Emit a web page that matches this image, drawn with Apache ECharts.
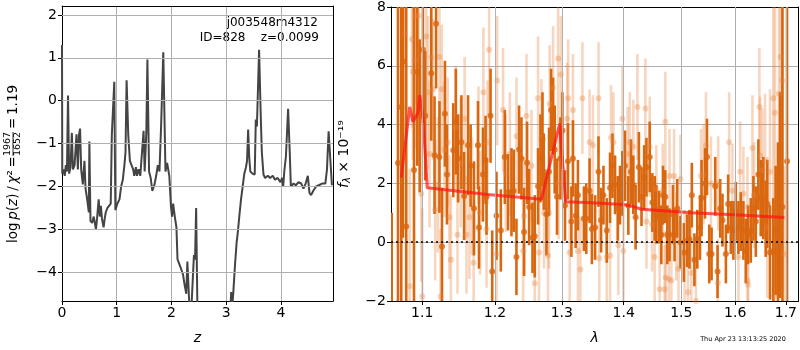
<!DOCTYPE html>
<html><head><meta charset="utf-8">
<script src="https://cdn.jsdelivr.net/npm/echarts@6/dist/echarts.min.js"></script>
<style>html,body{margin:0;padding:0;background:#fff}#c{width:800px;height:350px}</style>
</head><body><div id="c"></div>
<script>
// ---- left panel: log p(z) ----
const pzZ = [0.00,0.005,0.03,0.05,0.07,0.09,0.11,0.13,0.155,0.18,0.20,0.23,0.265,0.29,0.31,0.33,0.35,0.38,0.41,0.43,0.46,0.49,0.50,0.52,0.55,0.58,0.62,0.64,0.67,0.69,0.71,0.73,0.76,0.78,0.80,0.83,0.86,0.89,0.91,0.955,0.975,1.01,1.05,1.08,1.11,1.14,1.16,1.18,1.21,1.24,1.27,1.30,1.32,1.35,1.37,1.40,1.43,1.46,1.49,1.51,1.54,1.56,1.59,1.62,1.65,1.69,1.72,1.75,1.78,1.81,1.85,1.89,1.92,1.96,1.99,2.01,2.03,2.06,2.09,2.11,2.14,2.17,2.21,2.24,2.27,2.29,2.32,2.35,2.41,2.43,2.45,2.48,2.6,3.0,3.09,3.11,3.13,3.16,3.19,3.21,3.24,3.27,3.30,3.33,3.36,3.38,3.40,3.42,3.44,3.48,3.52,3.54,3.56,3.60,3.63,3.65,3.68,3.71,3.76,3.80,3.85,3.89,3.94,3.99,4.02,4.04,4.06,4.09,4.13,4.16,4.18,4.23,4.27,4.32,4.37,4.41,4.45,4.49,4.52,4.55,4.59,4.64,4.69,4.75,4.81,4.84,4.87,4.89,4.93];
const pzLogp = [1.3,-1.7,-1.6,-1.75,-1.5,-1.65,0.12,-1.7,-1.55,-0.75,-1.6,-1.5,-0.78,-1.6,-0.8,-0.65,-1.6,-1.95,-1.4,-2.05,-2.3,-2.6,-0.95,-2.8,-2.85,-2.7,-3.0,-2.75,-2.3,-2.7,-2.45,-2.75,-2.95,-2.75,-2.6,-2.5,-2.45,-2.4,-0.8,0.44,-2.55,-2.4,-2.3,-2.0,-1.85,-1.5,-1.2,0.48,-0.8,-1.4,-1.5,-1.6,-1.75,-1.55,-1.75,-1.6,-1.75,-1.75,-0.7,-1.65,-0.75,0.96,-1.65,-1.8,-2.1,-1.95,-1.75,-1.5,-1.65,-0.6,1.13,-1.65,-1.45,-1.75,-2.45,-2.7,-2.4,-2.7,-2.95,-3.7,-3.8,-3.9,-4.05,-4.3,-4.5,-3.75,-4.6,-5.2,-3.6,-3.7,-2.5,-5.5,-7,-7,-4.46,-4.8,-4.45,-3.83,-3.3,-3.08,-2.68,-2.3,-2.0,-1.7,-1.55,-1.4,-0.67,-1.33,-1.65,-1.7,-1.72,-0.44,-0.6,1.19,-0.35,-1.2,-1.72,-1.8,-1.75,-1.8,-1.75,-1.84,-1.8,-1.9,-1.8,-2.0,-1.65,-1.3,-0.19,-1.2,-2.0,-1.93,-1.97,-1.9,-1.93,-2.05,-1.93,-1.75,-2.15,-2.2,-2.1,-2.0,-1.97,-1.93,-1.93,-1.6,-0.71,-0.67,-1.97];
const pzTicksY = [-4,-3,-2,-1,0,1,2];

// ---- right panel: spectrum [lambda, flux, err] ----
const darkSpec = [
[1.0605,-3.5,4.5],[1.0685,2.69,9],[1.0727,4.6,9],[1.0749,6.15,6],[1.0791,0.53,9],[1.0892,2.46,8],
[1.0935,5.8,3.2],[1.0966,4.3,2.6],[1.1009,6.55,2.5],[1.1039,4.3,2.2],[1.1119,5.75,2.3],[1.1163,2.96,2.0],
[1.1184,7.43,2.2],[1.1229,2.9,1.9],[1.1263,-0.15,2.0],[1.1303,4.37,1.8],[1.1330,2.3,1.7],[1.1416,3.13,1.6],
[1.1451,4.1,1.8],[1.1483,2.85,1.5],[1.1528,3.4,1.6],[1.1565,1.57,1.5],[1.1620,3.3,1.7],[1.1656,2.6,1.4],
[1.1703,1.15,1.6],[1.1759,3.3,1.5],[1.1773,0.5,1.4],[1.1829,2.3,1.6],[1.1866,2.8,1.5],[1.1880,1.55,1.3],
[1.1937,4.3,1.6],[1.1961,-1.0,1.4],[1.2022,0.9,1.5],[1.2085,0.4,1.4],[1.2143,2.9,1.6],[1.2190,1.7,1.3],
[1.2240,1.7,1.5],[1.2273,1.75,1.4],[1.2313,-0.5,1.3],[1.2352,3.15,1.5],[1.2387,2.85,1.4],[1.2426,0.35,1.5],
[1.2471,2.7,1.4],[1.2501,1.2,1.3],[1.2552,0.15,1.2],[1.2586,0.2,1.4],[1.2636,1.9,1.3],[1.2672,2.85,1.5],
[1.2703,3.5,1.6],[1.2722,2.4,1.3],[1.2763,0.95,1.4],[1.2803,2.4,1.5],[1.2834,4.5,1.4],[1.2865,4.3,1.3],
[1.2890,3.15,1.5],[1.2926,1.55,1.3],[1.2979,2.85,1.4],[1.3010,3.8,1.3],[1.3050,1.25,1.2],[1.3097,2.75,1.3],
[1.3150,0.7,1.2],[1.3175,2.85,1.3],[1.3217,0.9,1.1],[1.3254,1.6,1.2],[1.3349,0.8,1.1],[1.3387,0.8,1.2],
[1.3440,1.75,1.1],[1.3477,0.45,1.2],[1.3529,0.5,1.1],[1.3584,2.4,1.2],[1.3626,0.75,1.1],[1.3665,1.6,1.0],
[1.3719,0.4,1.1],[1.3773,1.85,1.2],[1.3813,2.6,1.1],[1.3856,1.95,1.0],[1.3900,1.15,1.1],[1.3938,1.6,1.0],
[1.3978,2.0,1.1],[1.4022,2.6,1.2],[1.4078,1.25,1.0],[1.4122,2.4,1.1],[1.4162,1.95,1.0],[1.4201,0.85,1.1],
[1.4257,2.55,1.2],[1.4302,1.55,1.0],[1.4347,2.2,1.1],[1.4387,2.55,1.0],[1.4443,2.9,1.2],[1.4489,1.35,1.0],
[1.4529,1.15,1.1],[1.4558,0.95,1.0],[1.4605,0.85,0.9],[1.4645,0.25,1.0],[1.4675,1.6,1.0],[1.4715,1.55,0.9],
[1.4750,0.25,1.0],[1.4790,0.25,0.9],[1.4850,0.95,1.0],[1.4879,0.25,0.9],[1.4927,1.15,1.0],[1.4985,0.0,0.9],
[1.5046,-0.35,1.0],[1.5105,0.05,0.9],[1.5147,0.1,1.0],[1.5190,1.6,1.1],[1.5237,-0.6,0.9],[1.5290,0.1,1.0],
[1.5339,0.5,1.1],[1.5368,1.5,1.3],[1.5431,2.0,1.2],[1.5468,2.9,1.3],[1.5510,-0.4,1.0],[1.5553,-0.4,0.9],
[1.5622,1.9,1.0],[1.5665,-1.0,0.9],[1.5715,1.15,1.0],[1.5758,0.75,0.9],[1.5822,-0.4,1.0],[1.5865,1.3,1.0],
[1.5916,0.5,0.9],[1.5965,0.4,1.0],[1.6011,1.05,1.0],[1.6061,0.5,0.9],[1.6107,0.7,1.0],[1.6157,0.4,1.0],
[1.6203,-0.3,1.1],[1.6249,0.25,1.0],[1.6301,0.4,1.1],[1.6352,1.15,1.1],[1.6399,0.7,1.2],[1.6449,2.3,1.2],
[1.6496,1.5,1.3],[1.6547,1.5,1.4],[1.6594,0.8,1.3],[1.6626,1.3,1.5],[1.6680,-0.35,1.6],[1.6746,-0.3,1.8],
[1.6793,0.4,2.2],[1.6840,0.4,3.0],[1.6880,1.6,3.5],[1.6930,1.2,12],[1.7024,2.75,12]
];
const lightSpec = [
[1.0770,7.1,4],[1.0835,-1.5,4],[1.0865,6.9,3],[1.0878,5.8,3],[1.0908,6.2,3],[1.0921,7.7,3],[1.0953,7.7,3],
[1.0987,1.65,3],[1.1000,-1.85,3],[1.1053,7.0,2.8],[1.1075,5.1,2.6],[1.1097,3.0,2.5],[1.1119,6.3,2.6],
[1.1141,5.2,2.4],[1.1172,1.1,2.4],[1.1207,1.95,2.3],[1.1229,6.3,2.4],[1.1243,-1.85,2.3],[1.1260,5.2,2.2],
[1.1296,3.15,2.3],[1.1340,3.4,2.2],[1.1363,0.85,2.1],[1.1384,-0.6,2.2],[1.1451,3.9,2.1],[1.1474,0.25,2.0],
[1.1518,2.7,2.2],[1.1572,4.2,2.1],[1.1598,0.25,2.0],[1.1639,0.85,2.1],[1.1675,1.55,2.0],[1.1698,-0.7,2.1],
[1.1766,3.3,2.0],[1.1789,1.0,2.1],[1.1835,5.1,2.2],[1.1880,0.45,2.0],[1.1894,3.4,2.1],[1.1917,6.55,2.3],
[1.2023,-0.4,2.0],[1.2032,5.5,2.2],[1.2117,4.5,2.1],[1.2157,2.35,2.0],[1.2216,3.0,2.1],[1.2314,3.6,2.0],
[1.2412,-0.3,1.9],[1.2426,0.9,2.0],[1.2462,4.3,2.1],[1.2536,2.6,1.9],[1.2586,-1.4,2.0],[1.2636,4.9,2.1],
[1.2651,-0.35,1.9],[1.2687,3.55,2.0],[1.2726,1.0,1.9],[1.2787,-0.45,1.8],[1.2803,1.0,1.9],[1.2813,4.7,2.0],
[1.2865,5.25,2.1],[1.2943,6.25,2.2],[1.2950,2.0,1.9],[1.2985,5.7,2.0],[1.3084,4.2,1.9],[1.3100,4.9,2.0],
[1.3123,-0.35,1.8],[1.3175,4.5,1.9],[1.3254,-0.3,1.8],[1.3293,-0.93,1.8],[1.3325,4.9,1.9],[1.3440,3.4,1.8],
[1.3494,3.3,1.7],[1.3585,4.9,1.9],[1.3597,-0.55,1.7],[1.3719,-0.5,1.8],[1.3773,-0.45,1.7],[1.3789,3.55,1.8],
[1.3828,3.4,1.7],[1.3911,-0.1,1.7],[1.3978,4.2,1.8],[1.3995,-0.3,1.7],[1.4067,3.0,1.6],[1.4102,3.4,1.7],
[1.4162,3.25,1.6],[1.4232,4.6,1.8],[1.4369,4.55,1.7],[1.4387,0.7,1.6],[1.4443,3.25,1.7],[1.4484,0.6,1.6],
[1.4529,-0.5,1.6],[1.4558,1.8,1.5],[1.4616,-1.6,1.5],[1.4670,1.75,1.6],[1.4704,-1.6,1.5],[1.4715,4.1,1.7],
[1.4722,-1.2,1.6],[1.4775,-1.25,1.5],[1.4790,2.25,1.6],[1.4822,-1.3,1.5],[1.4870,2.25,1.6],[1.4910,0.2,1.5],
[1.4950,-0.9,1.6],[1.4985,2.15,1.5],[1.5059,-0.5,1.6],[1.5120,-1.7,1.5],[1.5180,-1.05,1.6],[1.5265,-2.0,1.5],
[1.5357,2.25,1.6],[1.5405,2.3,1.7],[1.5449,3.3,1.8],[1.5541,2.0,1.6],[1.5670,-1.4,1.5],[1.5677,2.0,1.6],
[1.5884,3.4,1.7],[1.5947,1.75,1.6],[1.6061,-0.5,1.6],[1.6094,2.4,1.7],[1.6157,1.65,1.6],[1.6235,1.2,1.7],
[1.6237,-1.3,1.6],[1.6249,-1.45,1.7],[1.6333,3.2,1.8],[1.6365,1.6,1.8],[1.6469,4.6,2.0],[1.6483,2.95,2.0],
[1.6528,2.45,2.1],[1.6581,2.75,2.3],[1.6626,0.5,2.4],[1.6680,2.4,2.8],[1.6746,4.9,4],[1.6760,-1.85,3],
[1.6780,4.4,5],[1.6860,5.05,6],[1.6894,6.3,7],[1.6927,5.5,7],[1.6961,-0.4,3]
];
const modelLam = [1.0727,1.0836,1.0878,1.0944,1.0966,1.1009,1.1066,1.1898,1.2687,1.2967,1.3060,1.3472,1.3990,1.4130,1.4300,1.5180,1.5980,1.6970];
const modelFlux = [2.2,4.6,4.1,4.4,5.0,4.3,1.85,1.62,1.46,4.03,1.38,1.34,1.28,1.23,1.12,1.0,0.93,0.84];
const lamTicks = [1.1,1.2,1.3,1.4,1.5,1.6,1.7];

const DARK = '#d9670f';
const FONT = 'DejaVu Sans';
const minus = v => String(v).replace('-', '\u2212');

function errRender(color, width) {
  return function (params, api) {
    const x = api.value(0), y = api.value(1), e = api.value(2);
    const p1 = api.coord([x, y - e]), p2 = api.coord([x, y + e]);
    return { type: 'line', shape: { x1: p1[0], y1: p1[1], x2: p2[0], y2: p2[1] },
      style: { stroke: color, lineWidth: width } };
  };
}

const chart = echarts.init(document.getElementById('c'), null, { renderer: 'canvas' });
const gridStyle = () => ({ show: true, lineStyle: { color: '#b0b0b0', width: 1, type: 'solid' } });
const tickStyle = () => ({ show: true, inside: false, length: 4, lineStyle: { color: '#000' } });
const lblStyle = () => ({ color: '#000', fontFamily: FONT, fontSize: 14, margin: 5 });
const blackLine = () => ({ show: true, onZero: false, lineStyle: { color: '#000', width: 1 } });
const nameStyle = { fontFamily: FONT, fontSize: 14, fontStyle: 'italic', color: '#000' };
function frame(gridIndex, pos, min, max, type) {
  return { gridIndex, position: pos, type: type || 'value', min, max, axisLine: blackLine(),
    axisTick: { show: false }, axisLabel: { show: false }, splitLine: { show: false } };
}

chart.setOption({
  animation: false,
  grid: [
    { left: 62, top: 6, width: 271, height: 298, show: false },
    { left: 391, top: 6, width: 408, height: 298, show: false }
  ],
  xAxis: [
    { gridIndex: 0, type: 'value', position: 'bottom', min: 0, max: 4.95, interval: 1,
      axisLine: blackLine(), axisTick: tickStyle(), splitLine: gridStyle(),
      axisLabel: Object.assign(lblStyle(), { showMaxLabel: false, formatter: v => minus(v) }),
      name: 'z', nameLocation: 'middle', nameGap: 30, nameTextStyle: nameStyle },
    { gridIndex: 1, type: 'log', logBase: 10, position: 'bottom', min: 1.0596, max: 1.7259,
      axisLine: blackLine(),
      axisTick: Object.assign(tickStyle(), { customValues: lamTicks }), splitLine: gridStyle(),
      axisLabel: Object.assign(lblStyle(), { customValues: lamTicks, formatter: v => Number(v).toFixed(1) }),
      name: 'λ', nameLocation: 'middle', nameGap: 30, nameTextStyle: nameStyle },
    frame(0, 'top', 0, 4.95),
    frame(1, 'top', 1.0596, 1.7259, 'log')
  ],
  yAxis: [
    { gridIndex: 0, type: 'value', position: 'left', min: -4.669, max: 2.209,
      axisLine: blackLine(),
      axisTick: Object.assign(tickStyle(), { customValues: pzTicksY }), splitLine: gridStyle(),
      axisLabel: Object.assign(lblStyle(), { customValues: pzTicksY, formatter: v => minus(v) }) },
    { gridIndex: 1, type: 'value', position: 'left', min: -2, max: 8, interval: 2,
      axisLine: blackLine(), axisTick: tickStyle(), splitLine: gridStyle(),
      axisLabel: Object.assign(lblStyle(), { formatter: v => minus(v) }) },
    frame(0, 'right', -4.669, 2.209),
    frame(1, 'right', -2, 8)
  ],
  series: [
    { type: 'line', xAxisIndex: 0, yAxisIndex: 0, showSymbol: false, clip: true,
      data: pzZ.map((z, i) => [z, pzLogp[i]]),
      lineStyle: { color: '#444', width: 2 } },
    // horizontal grid lines of the left panel at the labelled ticks
    { type: 'line', xAxisIndex: 0, yAxisIndex: 0, data: [], silent: true,
      markLine: { silent: true, symbol: 'none', label: { show: false }, animation: false,
        lineStyle: { color: '#b0b0b0', type: 'solid', width: 1 }, data: pzTicksY.map(v => ({ yAxis: v })) }, z: 0 },
    // vertical grid lines of the right panel
    { type: 'line', xAxisIndex: 1, yAxisIndex: 1, data: [], silent: true,
      markLine: { silent: true, symbol: 'none', label: { show: false }, animation: false,
        lineStyle: { color: '#b0b0b0', type: 'solid', width: 1 }, data: lamTicks.map(v => ({ xAxis: v })) }, z: 0 },
    { type: 'custom', xAxisIndex: 1, yAxisIndex: 1, clip: true, data: lightSpec,
      renderItem: errRender('rgba(230,130,60,0.33)', 2.6) },
    { type: 'scatter', xAxisIndex: 1, yAxisIndex: 1, clip: true, data: lightSpec.map(d => [d[0], d[1]]),
      symbolSize: 6, itemStyle: { color: 'rgba(230,130,60,0.42)' } },
    { type: 'custom', xAxisIndex: 1, yAxisIndex: 1, clip: true, data: darkSpec,
      renderItem: errRender(DARK, 2.6) },
    { type: 'scatter', xAxisIndex: 1, yAxisIndex: 1, clip: true, data: darkSpec.map(d => [d[0], d[1]]),
      symbolSize: 6, itemStyle: { color: DARK } },
    { type: 'line', xAxisIndex: 1, yAxisIndex: 1, showSymbol: false, clip: true,
      data: modelLam.map((l, i) => [l, modelFlux[i]]),
      lineStyle: { color: 'rgba(255,20,20,0.72)', width: 3 },
      markLine: { silent: true, symbol: 'none', label: { show: false },
        lineStyle: { color: '#000', type: [2, 3], width: 1.6 }, data: [{ yAxis: 0 }] } }
  ],
  graphic: [
    { type: 'text', x: 318, y: 23, style: { text: 'j003548m4312', font: '12px "DejaVu Sans"', fill: '#000', align: 'right', verticalAlign: 'middle' } },
    { type: 'text', x: 319, y: 38, style: { text: 'ID=828    z=0.0099', font: '12px "DejaVu Sans"', fill: '#000', align: 'right', verticalAlign: 'middle' } },
    { type: 'group', x: 13, y: 243, rotation: Math.PI / 2, children: [
      { type: 'text', x: 0, y: 0, style: { text: '{r|log\u2009}{i|p}{r|(}{i|z}{r|)\u2009/\u2009}{i|χ}{r|²\u2009=}', align: 'left', verticalAlign: 'middle',
        rich: { r: { fontFamily: FONT, fontSize: 13.5, fill: '#000' }, i: { fontFamily: FONT, fontSize: 13.5, fontStyle: 'italic', fill: '#000' } } } },
      { type: 'text', x: 99, y: -5, style: { text: '1967', font: '9.5px "DejaVu Sans"', fill: '#000', align: 'center', verticalAlign: 'middle' } },
      { type: 'line', shape: { x1: 87, y1: 0, x2: 111, y2: 0 }, style: { stroke: '#000', lineWidth: 0.8 } },
      { type: 'text', x: 99, y: 5, style: { text: '1652', font: '9.5px "DejaVu Sans"', fill: '#000', align: 'center', verticalAlign: 'middle' } },
      { type: 'text', x: 114, y: 0, style: { text: '=\u20091.19', font: '13.5px "DejaVu Sans"', fill: '#000', align: 'left', verticalAlign: 'middle' } }
    ] },
    { type: 'group', x: 344, y: 188, rotation: Math.PI / 2, children: [
      { type: 'text', x: 0, y: 0, style: { text: '{i|f}{s|λ}{r| × 10⁻¹⁹}', align: 'left', verticalAlign: 'middle',
        rich: { r: { fontFamily: FONT, fontSize: 14, fill: '#000' }, i: { fontFamily: FONT, fontSize: 14, fontStyle: 'italic', fill: '#000' },
          s: { fontFamily: FONT, fontSize: 10, fontStyle: 'italic', fill: '#000', padding: [6, 0, 0, 0] } } } }
    ] },
    { type: 'text', x: 743, y: 339, style: { text: 'Thu Apr 23 13:13:25 2020', font: '6.5px "DejaVu Sans"', fill: '#000', align: 'center', verticalAlign: 'middle' } }
  ]
});
</script></body></html>
